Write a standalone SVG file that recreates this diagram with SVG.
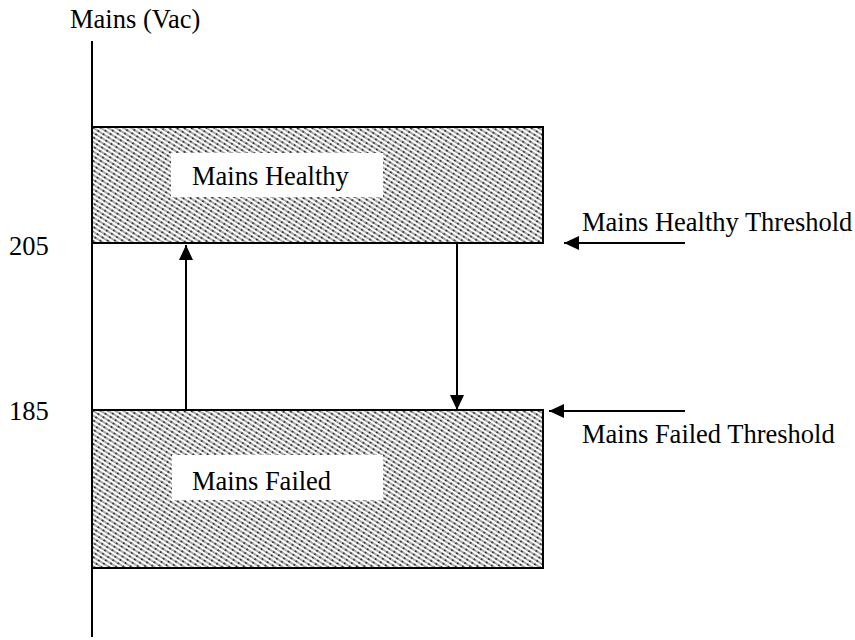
<svg xmlns="http://www.w3.org/2000/svg" width="855" height="640" viewBox="0 0 855 640">
<style>
text{font-family:"Liberation Serif","DejaVu Serif","Times New Roman",serif;font-size:26.5px;fill:#000}
.band{fill:url(#hatch);stroke:#000;stroke-width:2}
.lbl{fill:#fff;stroke:none}
.ln{stroke:#000;stroke-width:2;fill:none}
.conn{stroke:#000;stroke-width:2;fill:none;marker-end:url(#ah)}
</style>
<defs>
<pattern id="hatch" width="4" height="6" patternUnits="userSpaceOnUse" patternTransform="rotate(-58)">
<rect width="4" height="6" fill="#fff"/>
<rect x="0" y="0" width="1.8" height="6" fill="#a0a0a0"/>
<rect x="0" y="2" width="1.8" height="1.6" fill="#1a1a1a"/>
</pattern>
<marker id="ah" markerWidth="15" markerHeight="14" refX="15" refY="7" orient="auto" markerUnits="userSpaceOnUse">
<path d="M0,0 L15,7 L0,14 Z" fill="#000"/>
</marker>
</defs>
<g id="axis">
<line class="ln" x1="92" y1="41" x2="92" y2="637"/>
<text x="70" y="28">Mains (Vac)</text>
<text x="9" y="255">205</text>
<text x="9" y="420">185</text>
</g>
<g id="healthy">
<rect class="band" x="92" y="127" width="451" height="116"/>
<rect class="lbl" x="171" y="153" width="212" height="44"/>
<text x="192" y="185">Mains Healthy</text>
</g>
<g id="failed">
<rect class="band" x="92" y="410" width="451" height="158"/>
<rect class="lbl" x="172" y="455" width="211" height="45"/>
<text x="192" y="490">Mains Failed</text>
</g>
<g id="healthy-threshold">
<text x="582" y="231">Mains Healthy Threshold</text>
</g>
<g id="failed-threshold">
<text x="582" y="443">Mains Failed Threshold</text>
</g>
<g id="connectors">
<line class="conn" x1="186" y1="409" x2="186" y2="245"/>
<line class="conn" x1="457" y1="244" x2="457" y2="410"/>
<line class="conn" x1="685" y1="243" x2="564" y2="243"/>
<line class="conn" x1="685" y1="411" x2="549" y2="411"/>
</g>
</svg>
